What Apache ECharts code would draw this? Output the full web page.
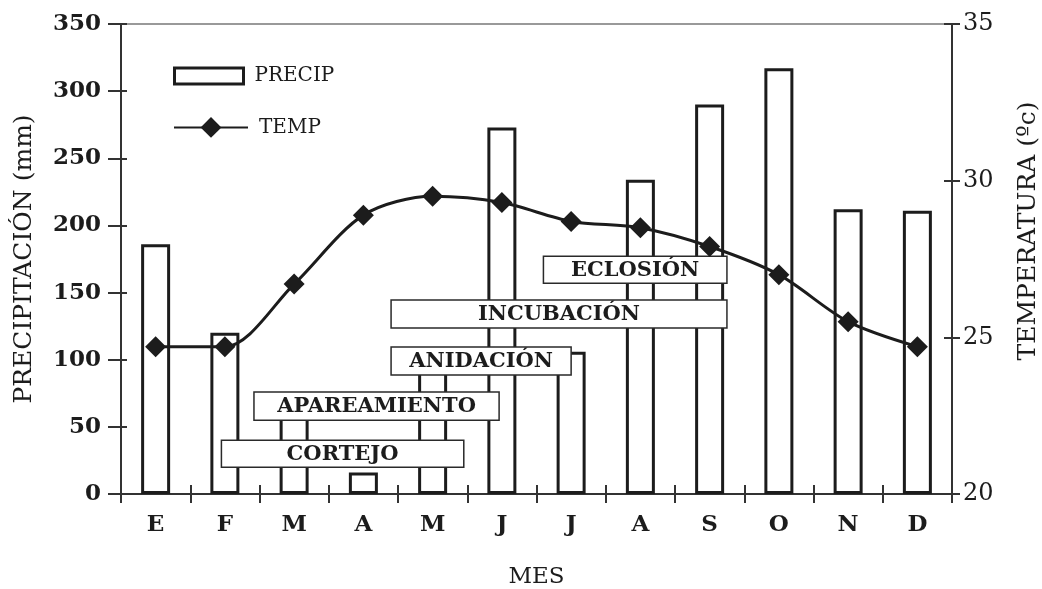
<!DOCTYPE html>
<html>
<head>
<meta charset="utf-8">
<script src="https://cdn.jsdelivr.net/npm/echarts@6/dist/echarts.min.js"></script>
<style>html,body{margin:0;padding:0;background:#fff}#c{width:1042px;height:589px}</style>
</head>
<body>
<div id="c"></div>
<script>
const months = ['E','F','M','A','M','J','J','A','S','O','N','D'];
const precip = [186, 120, 65, 16, 100, 273, 106, 234, 290, 317, 212, 211];
const temp = [24.7, 24.7, 26.7, 28.9, 29.5, 29.3, 28.7, 28.5, 27.9, 27.0, 25.5, 24.7];
const precipTicks = [0, 350, 50];
const tempTicks = [20, 35, 5];
// phase boxes: [start month position, end month position, low mm, high mm]
const phaseNames = ['CORTEJO', 'APAREAMIENTO', 'ANIDACIÓN', 'INCUBACIÓN', 'ECLOSIÓN'];
const phaseStart = [1.45, 1.92, 3.9, 3.9, 6.1];
const phaseEnd = [4.95, 5.46, 6.5, 8.75, 8.75];
const phaseLow = [20, 55, 88.6, 123.6, 157];
const phaseHigh = [40, 76, 109.5, 144.5, 177];

const phaseData = phaseNames.map((n, i) => [phaseStart[i], phaseEnd[i], phaseLow[i], phaseHigh[i]]);
const INK = '#1c1c1c';
const SERIF = '"DejaVu Serif", "Liberation Serif", serif';
const legendText = { fontFamily: SERIF, fontSize: 20, color: INK, padding: [0, 0, 0, 6] };

const chart = echarts.init(document.getElementById('c'));
chart.setOption({
  animation: false,
  backgroundColor: '#fff',
  grid: { left: 121, right: 90, top: 24, bottom: 95, containLabel: false, outerBoundsMode: 'none' },
  legend: [
    {
      left: 173, top: 66, orient: 'vertical', padding: 0,
      itemWidth: 69, itemHeight: 16,
      data: [{ name: 'PRECIP', icon: 'rect' }],
      itemStyle: { borderWidth: 3, borderColor: INK, color: '#fff' },
      textStyle: legendText
    },
    {
      left: 173, top: 117, orient: 'vertical', padding: 0,
      itemWidth: 74, itemHeight: 26,
      data: ['TEMP'],
      textStyle: legendText
    }
  ],
  xAxis: [
    {
      type: 'category', data: months, position: 'bottom',
      axisLine: { lineStyle: { color: '#333', width: 2 } },
      axisTick: { show: true, length: 9, lineStyle: { color: '#333', width: 2 } },
      axisLabel: { fontFamily: SERIF, fontWeight: 'bold', fontSize: 23, color: INK, margin: 20 },
      name: 'MES', nameLocation: 'middle', nameGap: 72,
      nameTextStyle: { fontFamily: SERIF, fontSize: 23, color: INK }
    },
    {
      type: 'value', min: 0, max: 12, position: 'top',
      axisLine: { show: true, onZero: false, lineStyle: { color: '#999', width: 2 } },
      axisTick: { show: false }, axisLabel: { show: false }, splitLine: { show: false }
    },
    {
      type: 'category', data: months, position: 'bottom',
      axisLine: { show: false },
      axisTick: { show: true, inside: true, length: 9, lineStyle: { color: '#333', width: 2 } },
      axisLabel: { show: false }
    }
  ],
  yAxis: [
    {
      type: 'value', min: precipTicks[0], max: precipTicks[1], interval: precipTicks[2], position: 'left',
      axisLine: { show: true, lineStyle: { color: '#333', width: 2 } },
      axisTick: { show: true, length: 13, lineStyle: { color: '#333', width: 2 } },
      axisLabel: { fontFamily: SERIF, fontWeight: 'bold', fontSize: 23, color: INK, margin: 20 },
      splitLine: { show: false },
      name: 'PRECIPITACIÓN (mm)', nameLocation: 'middle', nameGap: 84,
      nameTextStyle: { fontFamily: SERIF, fontSize: 25, color: INK }
    },
    {
      type: 'value', min: tempTicks[0], max: tempTicks[1], interval: tempTicks[2], position: 'right',
      axisLine: { show: true, lineStyle: { color: '#333', width: 2 } },
      axisTick: { show: true, length: 8, lineStyle: { color: '#333', width: 2 } },
      axisLabel: { fontFamily: SERIF, fontSize: 24, color: INK, margin: 11 },
      splitLine: { show: false },
      name: 'TEMPERATURA (ºc)', nameLocation: 'middle', nameGap: 64, nameRotate: 90,
      nameTextStyle: { fontFamily: SERIF, fontSize: 25, color: INK, padding: [0, 0, 0, 56] }
    },
    {
      type: 'value', min: precipTicks[0], max: precipTicks[1], interval: precipTicks[2], position: 'left',
      axisLine: { show: false },
      axisTick: { show: true, inside: true, length: 6, lineStyle: { color: '#333', width: 2 } },
      axisLabel: { show: false }, splitLine: { show: false }
    },
    {
      type: 'value', min: tempTicks[0], max: tempTicks[1], interval: tempTicks[2], position: 'right',
      axisLine: { show: false },
      axisTick: { show: true, inside: true, length: 8, lineStyle: { color: '#333', width: 2 } },
      axisLabel: { show: false }, splitLine: { show: false }
    }
  ],
  series: [
    {
      name: 'PRECIP', type: 'bar', data: precip, xAxisIndex: 0, yAxisIndex: 0,
      barWidth: 29, z: 2,
      itemStyle: { color: '#fff', borderColor: INK, borderWidth: 3 }
    },
    {
      name: 'phases', type: 'custom', xAxisIndex: 1, yAxisIndex: 0, z: 3,
      data: phaseData,
      renderItem: function (params, api) {
        const p0 = api.coord([api.value(0), api.value(3)]);
        const p1 = api.coord([api.value(1), api.value(2)]);
        return {
          type: 'group',
          children: [
            { type: 'rect', shape: { x: p0[0], y: p0[1], width: p1[0] - p0[0], height: p1[1] - p0[1] },
              style: { fill: '#fff', stroke: '#2a2a2a', lineWidth: 1.5 } },
            { type: 'text', style: { text: phaseNames[params.dataIndex], x: (p0[0] + p1[0]) / 2, y: (p0[1] + p1[1]) / 2 + 1,
              align: 'center', verticalAlign: 'middle', fill: INK,
              font: 'bold 21px "DejaVu Serif", serif' } }
          ]
        };
      }
    },
    {
      name: 'TEMP', type: 'line', data: temp, xAxisIndex: 0, yAxisIndex: 1, z: 4,
      smooth: 0.3, symbol: 'diamond', symbolSize: 21,
      lineStyle: { color: INK, width: 3 },
      itemStyle: { color: INK }
    }
  ]
});
</script>
</body>
</html>
